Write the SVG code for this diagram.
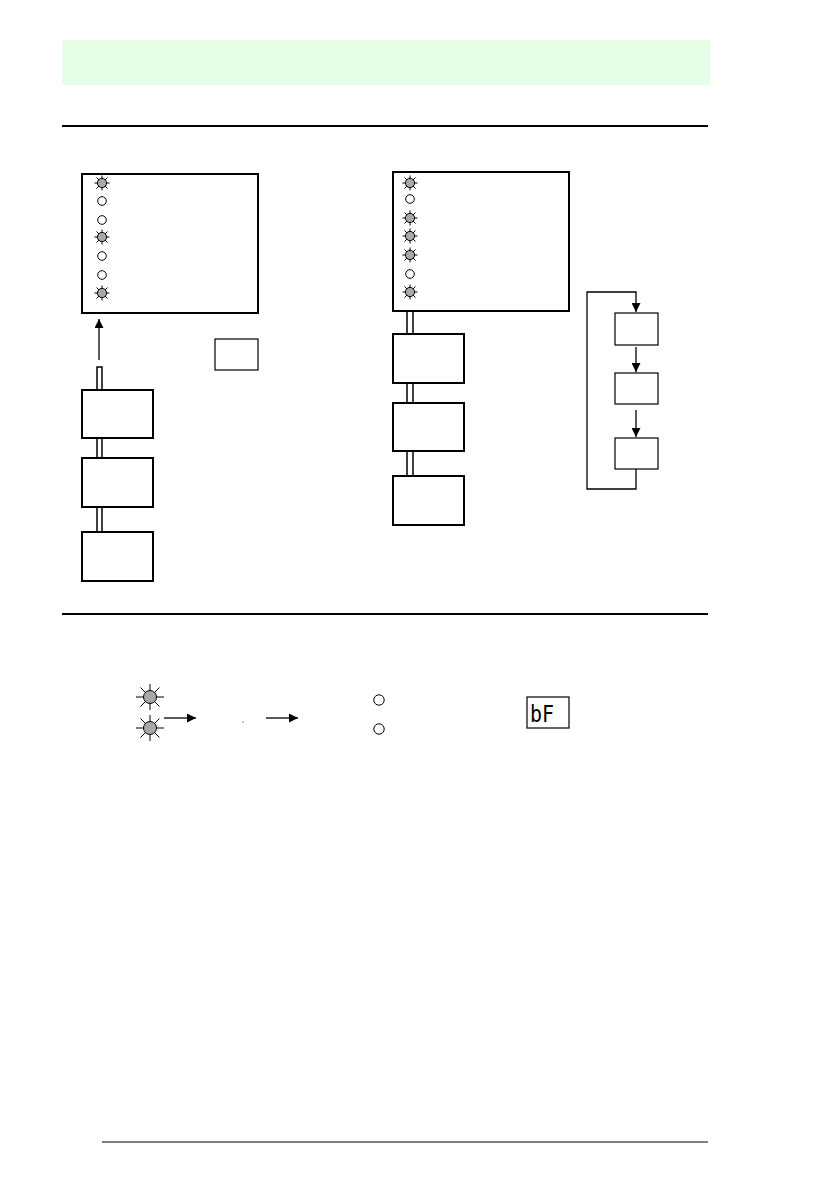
<svg xmlns="http://www.w3.org/2000/svg" width="840" height="1190" viewBox="0 0 840 1190">
<style>
.box{fill:#fff;stroke:#000;stroke-width:2}
.thin{fill:#fff;stroke:#000;stroke-width:1.2}
.led{fill:#fff;stroke:#000;stroke-width:1}
.lit{fill:#a8a8a8;stroke:#000;stroke-width:1}
.ray{stroke:#000;stroke-width:1}
.rule{stroke:#000;stroke-width:2}
.conn{fill:none;stroke:#000;stroke-width:1.3}
.dbl{fill:#fff;stroke:#000;stroke-width:1.5}
</style>
<defs>
<marker id="ah" viewBox="0 0 10 10" refX="10" refY="5" markerWidth="11" markerHeight="9" markerUnits="userSpaceOnUse" orient="auto">
<path d="M0,0 L10,5 L0,10 z" fill="#000"/>
</marker>
<marker id="ahb" viewBox="0 0 10 10" refX="10" refY="5" markerWidth="11" markerHeight="9" markerUnits="userSpaceOnUse" orient="auto">
<path d="M0,0 L10,5 L0,10 z" fill="#000"/>
</marker>
<g id="star">
<g class="ray">
<line x1="0" y1="-7.5" x2="0" y2="7.5"/><line x1="-7.5" y1="0" x2="7.5" y2="0"/>
<line x1="-5.5" y1="-5.5" x2="5.5" y2="5.5"/><line x1="-5.5" y1="5.5" x2="5.5" y2="-5.5"/>
</g>
<circle r="4.6" class="lit"/>
</g>
<g id="bigstar">
<g class="ray">
<line x1="0" y1="-13" x2="0" y2="13"/><line x1="-14" y1="0" x2="14" y2="0"/>
<line x1="-9.5" y1="-9.5" x2="9.5" y2="9.5"/><line x1="-9.5" y1="9.5" x2="9.5" y2="-9.5"/>
</g>
<circle r="6.5" class="lit"/>
</g>
</defs>
<rect width="840" height="1190" fill="#fff"/>
<rect x="62" y="40" width="648" height="45" fill="#e6fde6"/>
<line x1="62" y1="126" x2="708" y2="126" class="rule"/>
<line x1="62" y1="614" x2="708" y2="614" class="rule"/>
<line x1="102" y1="1142" x2="708" y2="1142" stroke="#000" stroke-width="1.2"/>

<g id="connectors">
<line x1="99" y1="360" x2="99" y2="319" class="conn" marker-end="url(#ah)"/>
<rect x="97" y="367" width="5" height="23" class="dbl"/>
<rect x="97" y="438" width="5" height="20" class="dbl"/>
<rect x="97" y="507" width="5" height="25" class="dbl"/>
<rect x="407" y="311" width="6" height="23" class="dbl"/>
<rect x="407" y="383" width="6" height="20" class="dbl"/>
<rect x="407" y="451" width="6" height="25" class="dbl"/>
<path d="M636,469 V489 H587 V292 H636 V312" class="conn" marker-end="url(#ah)"/>
<line x1="636" y1="347" x2="636" y2="372" class="conn" marker-end="url(#ah)"/>
<line x1="636" y1="410" x2="636" y2="437" class="conn" marker-end="url(#ah)"/>
<line x1="164" y1="718" x2="196" y2="718" class="conn" marker-end="url(#ahb)"/>
<line x1="266" y1="718" x2="298" y2="718" class="conn" marker-end="url(#ahb)"/>
</g>

<g id="panel-left">
<rect x="82" y="174" width="176" height="139" class="box"/>
<use href="#star" x="102" y="183"/>
<circle cx="102" cy="201" r="4.3" class="led"/>
<circle cx="102" cy="220" r="4.3" class="led"/>
<use href="#star" x="102" y="237"/>
<circle cx="102" cy="256" r="4.3" class="led"/>
<circle cx="102" cy="275" r="4.3" class="led"/>
<use href="#star" x="102" y="293"/>
</g>
<g id="small-box"><rect x="215" y="339" width="43" height="31" class="thin"/></g>
<g id="left-1"><rect x="82" y="390" width="71" height="48" class="box"/></g>
<g id="left-2"><rect x="82" y="458" width="71" height="49" class="box"/></g>
<g id="left-3"><rect x="82" y="532" width="71" height="49" class="box"/></g>

<g id="panel-right">
<rect x="393" y="172" width="176" height="139" class="box"/>
<use href="#star" x="410" y="183"/>
<circle cx="410" cy="199" r="4.3" class="led"/>
<use href="#star" x="410" y="218"/>
<use href="#star" x="410" y="236"/>
<use href="#star" x="410" y="255"/>
<circle cx="410" cy="274" r="4.3" class="led"/>
<use href="#star" x="410" y="292"/>
</g>
<g id="right-1"><rect x="393" y="334" width="71" height="49" class="box"/></g>
<g id="right-2"><rect x="393" y="403" width="71" height="48" class="box"/></g>
<g id="right-3"><rect x="393" y="476" width="71" height="49" class="box"/></g>

<g id="loop-1"><rect x="615" y="313" width="43" height="32" class="thin"/></g>
<g id="loop-2"><rect x="615" y="373" width="43" height="31" class="thin"/></g>
<g id="loop-3"><rect x="615" y="438" width="43" height="31" class="thin"/></g>

<g id="bottom-leds">
<use href="#bigstar" x="150" y="697"/>
<use href="#bigstar" x="150" y="728"/>
<circle cx="243" cy="722" r="0.6" fill="#000"/>
<circle cx="379" cy="700" r="5.2" class="led"/>
<circle cx="379" cy="729" r="5.2" class="led"/>
</g>
<g id="display">
<rect x="527" y="697" width="42" height="31" class="thin"/>
<text x="530" y="722" font-family="DejaVu Sans Mono, monospace" font-size="23" textLength="24" lengthAdjust="spacingAndGlyphs">bF</text>
</g>
</svg>
